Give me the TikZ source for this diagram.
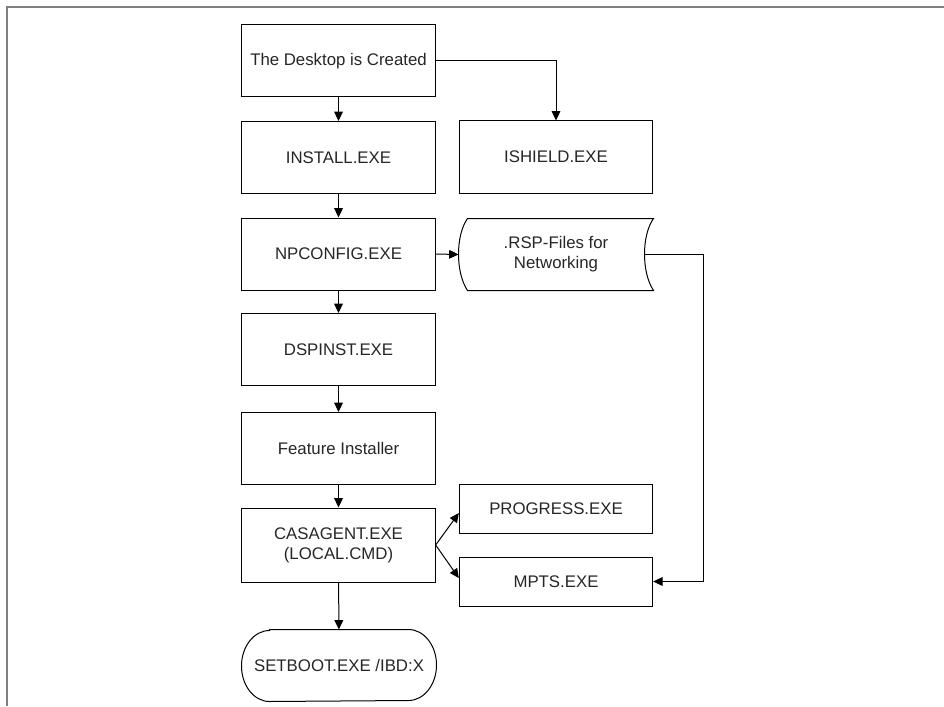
\documentclass[tikz,border=0pt]{standalone}
\usepackage{fontspec}
\setmainfont{Liberation Sans}
\usetikzlibrary{arrows.meta}
\begin{document}
\begin{tikzpicture}[x=0.75pt,y=-0.75pt,
  box/.style={rectangle, draw=black, line width=0.75pt, minimum width=145pt,
    minimum height=54pt, inner sep=0pt, align=center,
    font=\fontsize{12.6}{15}\selectfont, text=black!85},
  smallbox/.style={box, minimum height=36.75pt},
  plain/.style={box, draw=none},
  arr/.style={line width=0.75pt, -{Triangle[length=7pt,width=6.5pt]}},
  link/.style={line width=0.75pt},
  frame/.style={draw=gray, line width=1.5pt}]
\useasboundingbox (0,0) rectangle (944,706);
% sheet border (top and left edges only)
\draw[frame] (7,706) -- (7,7) -- (944,7);

% main column
\node[box] (desk) at (338.5,61) {The Desktop is Created};
\node[box] (install) at (338.5,157.5) {INSTALL.EXE};
\node[box] (npconfig) at (338.5,254) {NPCONFIG.EXE};
\node[box] (dspinst) at (338.5,349.5) {DSPINST.EXE};
\node[box] (feature) at (338.5,448.5) {Feature Installer};
\node[box, minimum height=55.5pt] (casagent) at (338.5,545) {CASAGENT.EXE\\(LOCAL.CMD)};
\node[plain, minimum width=145.5pt, minimum height=53.25pt] (setboot) at (339,665.5) {SETBOOT.EXE /IBD:X};

% side column
\node[box] (ishield) at (556,157) {ISHIELD.EXE};
\node[plain, minimum width=145.5pt, minimum height=53.25pt] (rsp) at (556,254.5) {.RSP-Files for\\Networking};
\node[smallbox] (progress) at (556,508.5) {PROGRESS.EXE};
\node[smallbox] (mpts) at (556,581.5) {MPTS.EXE};

% stored-data outline of the response files
\draw[link] ([xshift=6.75pt]rsp.north west) -- (rsp.north east)
  .. controls ([shift={(-12,17)}]rsp.north east) and ([shift={(-12,-18)}]rsp.south east) .. (rsp.south east)
  -- ([xshift=6.75pt]rsp.south west)
  .. controls ([shift={(-3,-18)}]rsp.south west) and ([shift={(-3,17)}]rsp.north west) .. cycle;
\coordinate (rspout) at ([xshift=-6.75pt]rsp.east);

% terminator outline
\draw[link] ([xshift=21pt]setboot.north west) -- ([xshift=-21pt]setboot.north east)
  arc[start angle=90, end angle=-90, x radius=21pt, y radius=26.625pt]
  -- ([xshift=21pt]setboot.south west)
  arc[start angle=270, end angle=90, x radius=21pt, y radius=26.625pt] -- cycle;

% connectors
\draw[arr] (desk) -- (install);
\draw[arr] (install) -- (npconfig);
\draw[arr] (npconfig) -- (dspinst);
\draw[arr] (dspinst) -- (feature);
\draw[arr] (feature) -- (casagent);
\draw[arr] (casagent) -- (setboot);
\draw[arr] (desk.east) -| (ishield.north);
\draw[arr] (npconfig.east) -- (rsp.west);
\draw[arr] (casagent.east) -- ([yshift=-3.4pt]progress.west);
\draw[arr] (casagent.east) -- ([yshift=2.6pt]mpts.west);
\draw[arr] (rspout) -- ++(59,0) |- (mpts.east);
\end{tikzpicture}
\end{document}
